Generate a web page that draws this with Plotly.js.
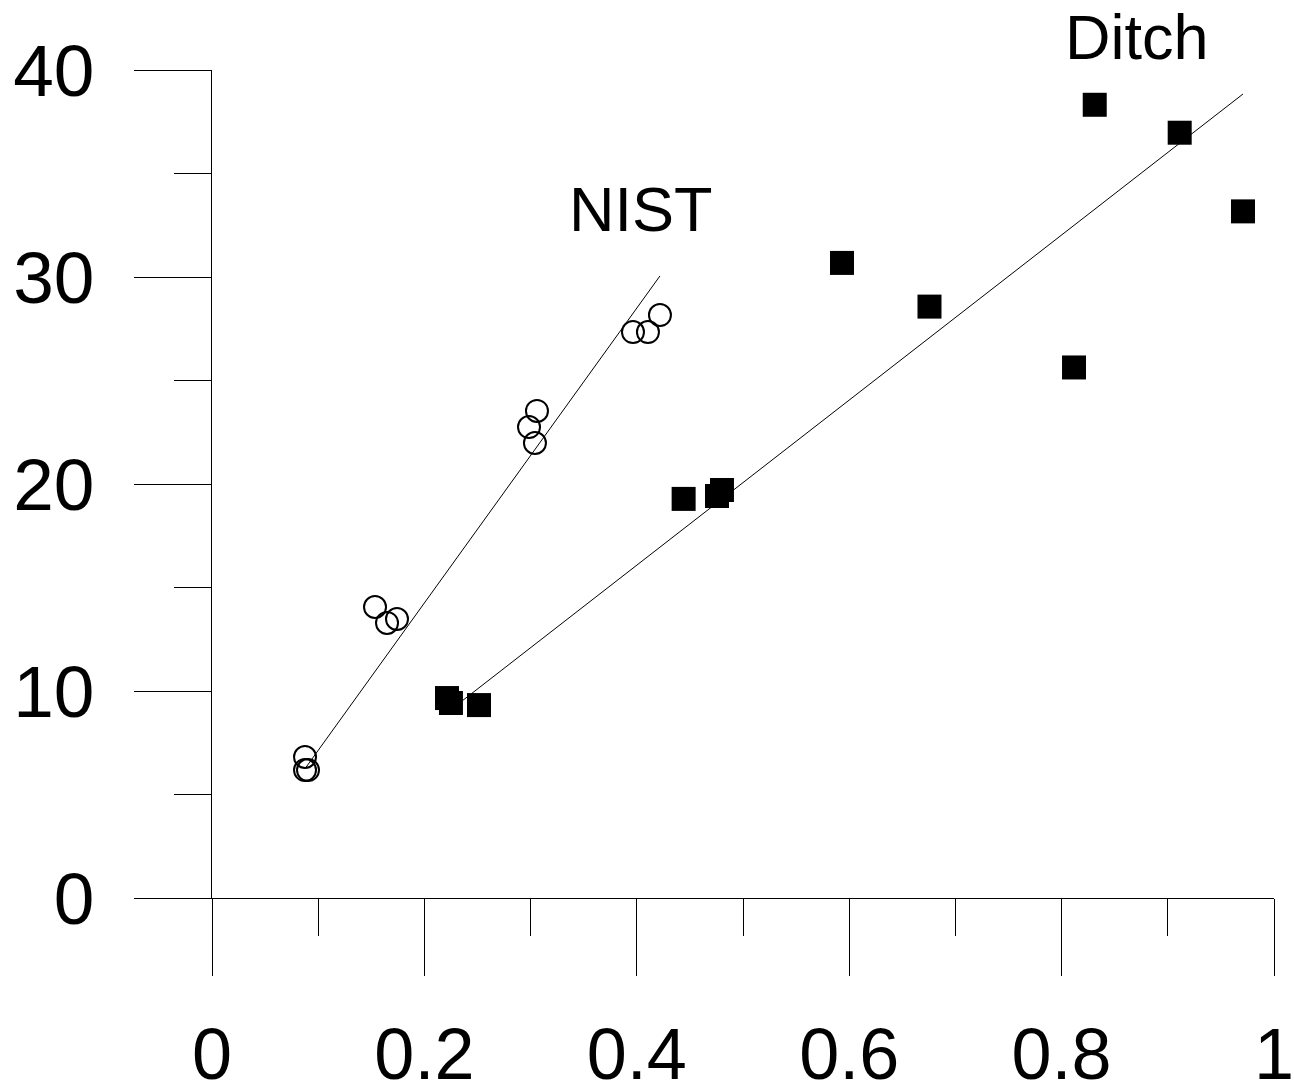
<!DOCTYPE html>
<html>
<head>
<meta charset="utf-8">
<script src="https://cdn.plot.ly/plotly-3.0.1.min.js"></script>
<style>html,body{margin:0;padding:0;background:#fff;}#chart{width:1294px;height:1088px;}</style>
</head>
<body>
<div id="chart"></div>
<script>
// NIST data (open circles)
const nistX = [0.0876, 0.0876, 0.0904, 0.1535, 0.1648, 0.1742, 0.2985, 0.3060, 0.3041, 0.3964, 0.4105, 0.4218];
const nistY = [6.81, 6.18, 6.18, 14.06, 13.29, 13.48, 22.75, 23.53, 21.98, 27.34, 27.34, 28.16];
// NIST fitted line endpoints
const nistFitX = [0.0876, 0.4218];
const nistFitY = [6.25, 30.05];

// Ditch data (filled squares)
const ditchX = [0.2213, 0.2250, 0.2514, 0.4441, 0.4755, 0.4802, 0.5932, 0.6756, 0.8117, 0.8312, 0.9112, 0.9708];
const ditchY = [9.66, 9.42, 9.32, 19.28, 19.42, 19.71, 30.68, 28.57, 25.63, 38.32, 36.97, 33.17];
// Ditch fitted line endpoints
const ditchFitX = [0.235, 0.9708];
const ditchFitY = [9.50, 38.84];

// Axis ticks
const xTicks = [0, 0.2, 0.4, 0.6, 0.8, 1];
const xTickText = ['0', '0.2', '0.4', '0.6', '0.8', '1'];
const yTicks = [0, 10, 20, 30, 40];
const yTickText = ['0', '10', '20', '30', '40'];
const xRange = [0, 1];
const yRange = [0, 40];

// Labels (x in data units, y in data units)
const labelText = ['NIST', 'Ditch'];
const labelX = [0.404, 0.8707];
const labelY = [33.29, 41.6];

const FONT = 'Liberation Sans, Arial, Helvetica, sans-serif';

const traces = [
  {x: nistFitX, y: nistFitY, mode: 'lines', line: {color: 'black', width: 1}, hoverinfo: 'skip', showlegend: false},
  {x: ditchFitX, y: ditchFitY, mode: 'lines', line: {color: 'black', width: 1}, hoverinfo: 'skip', showlegend: false},
  {x: nistX, y: nistY, mode: 'markers', marker: {symbol: 'circle-open', size: 22, color: 'black', line: {color: 'black', width: 2}}, showlegend: false, cliponaxis: false},
  {x: ditchX, y: ditchY, mode: 'markers', marker: {symbol: 'square', size: 24, color: 'black', line: {width: 0}}, showlegend: false, cliponaxis: false}
];

const layout = {
  width: 1294, height: 1088,
  margin: {l: 212, r: 20, t: 70, b: 190, pad: 0},
  paper_bgcolor: 'white', plot_bgcolor: 'white',
  showlegend: false,
  font: {family: FONT, color: 'black'},
  xaxis: {
    range: xRange, tickvals: xTicks, ticktext: xTickText,
    showline: true, linecolor: 'black', linewidth: 1,
    showgrid: false, zeroline: false,
    ticks: 'outside', ticklen: 77, tickwidth: 1, tickcolor: 'black',
    tickfont: {family: FONT, size: 72, color: 'black'},
    ticklabelstandoff: 17,
    ticklabeloverflow: 'allow',
    minor: {tickvals: [0.1, 0.3, 0.5, 0.7, 0.9], ticks: 'outside', ticklen: 37, tickwidth: 1, tickcolor: 'black', showgrid: false}
  },
  yaxis: {
    range: yRange, tickvals: yTicks, ticktext: yTickText,
    showline: true, linecolor: 'black', linewidth: 1,
    showgrid: false, zeroline: false,
    ticks: 'outside', ticklen: 77, tickwidth: 1, tickcolor: 'black',
    tickfont: {family: FONT, size: 73, color: 'black'},
    ticklabelstandoff: 25,
    ticklabeloverflow: 'allow',
    minor: {tickvals: [5, 15, 25, 35], ticks: 'outside', ticklen: 37, tickwidth: 1, tickcolor: 'black', showgrid: false}
  },
  annotations: labelText.map((t, i) => ({
    text: t, x: labelX[i], y: (labelY[i] - yRange[0]) / (yRange[1] - yRange[0]), xref: 'x', yref: 'paper',
    xanchor: 'center', yanchor: 'middle', showarrow: false,
    font: {family: FONT, size: 63, color: 'black'}
  }))
};

Plotly.newPlot('chart', traces, layout, {staticPlot: true, displayModeBar: false});
</script>
</body>
</html>
